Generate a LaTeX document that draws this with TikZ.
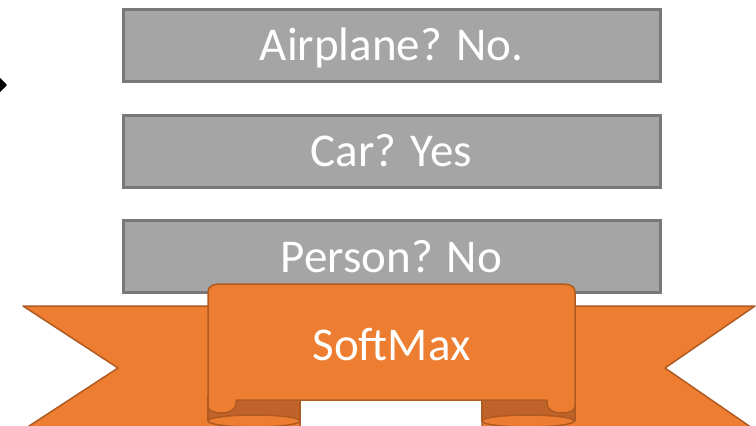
\documentclass[tikz,border=0pt]{standalone}
\usepackage{fontspec}
\setmainfont{Carlito}
\usetikzlibrary{arrows.meta}
\definecolor{boxgray}{HTML}{A5A5A5}
\definecolor{boxedge}{HTML}{787878}
\definecolor{rib}{HTML}{ED7D31}
\definecolor{ribedge}{HTML}{AE5A21}
\definecolor{ribdark}{HTML}{C0632B}
\begin{document}
\begin{tikzpicture}[x=1pt,y=-1pt,
  graybox/.style={draw=boxedge, fill=boxgray, line width=3pt, minimum width=537pt, minimum height=72pt, inner sep=0pt},
  boxtext/.style={text=white, font=\fontsize{47}{56}\selectfont, anchor=base, inner sep=0pt},
  ribpart/.style={fill=rib, draw=ribedge, line width=1.5pt, line join=round},
  ribfold/.style={fill=ribdark, draw=ribedge, line width=1.5pt, line join=round}]
\useasboundingbox (0,0) rectangle (756,426);
\clip (0,0) rectangle (756,426);

% incoming arrow (cut by the left edge)
\coordinate (arrowstart) at (-40,85);
\coordinate (arrowend) at (7,85);
\draw[line width=2pt, -{Triangle[length=9pt,width=18pt]}] (arrowstart) -- (arrowend);

% gray boxes
\node[graybox] (airplane) at (391.5,45) {};
\node[graybox] (car) at (391.5,151) {};
\node[graybox] (person) at (391.5,256) {};
\node[boxtext] (airplanetext) at (391.5,60) {Airplane? No.};
\node[boxtext] (cartext) at (391.5,166) {Car? Yes};
\node[boxtext] (persontext) at (391.5,272) {Person? No};

% ribbon: end bands
\path[ribpart] (23,306) -- (118,368) -- (23,430) -- (300,430) -- (300,306) -- cycle;
\path[ribpart] (755,306) -- (665,368) -- (755,430) -- (482,430) -- (482,306) -- cycle;
% folds
\path[ribfold] (208,396) rectangle (300,421);
\path[ribfold] (482,396) rectangle (575,421);
\path[ribpart] (254,421) ellipse [x radius=46, y radius=6];
\path[ribpart] (528,421) ellipse [x radius=46, y radius=6];
% center panel
\path[ribpart] (208,406) -- (208,292) .. controls (208,286) and (213,284) .. (222,284)
  -- (561,284) .. controls (570,284) and (575,286) .. (575,292)
  -- (575,406) .. controls (575,411) and (569,413) .. (561,413)
  .. controls (553,413) and (547,409) .. (547,404) -- (547,400) -- (236,400) -- (236,404)
  .. controls (236,409) and (230,413) .. (222,413)
  .. controls (214,413) and (208,411) .. (208,406) -- cycle;
\node[boxtext] (softmax) at (391.5,360) {SoftMax};
\end{tikzpicture}
\end{document}
